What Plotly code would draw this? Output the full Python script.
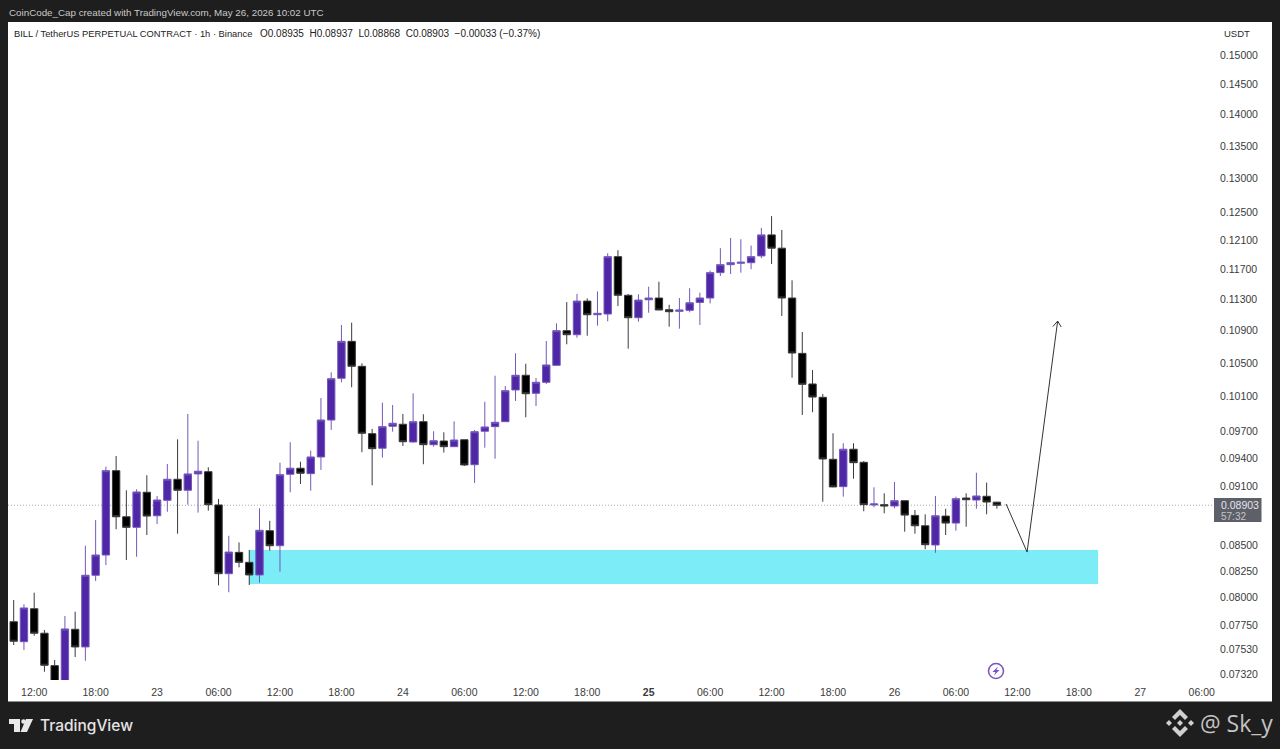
import numpy as np
import pandas as pd
import plotly.graph_objects as go

# Hourly candles, first bar May 22 10:00
times = pd.date_range("2026-05-22 10:00", periods=97, freq="h")
opens = [.07779, .07601, .07897, .07676, .07393, .07238, .07711, .07555, .08209, .08404,
         .09267, .08785, .08678, .09038, .08795, .08954, .09175, .09059, .09232, .09256,
         .08906, .08224, .08430, .08333, .08212, .08644, .08495, .09228, .09293, .09235,
         .09415, .09827, .10314, .10765, .10458, .09673, .09511, .09756, .09779, .09580,
         .09808, .09550, .09591, .09528, .09605, .09331, .09700, .09752, .09808, .10175,
         .10350, .10136, .10266, .10470, .10899, .10848, .11279, .11102, .11111, .11875,
         .11355, .11064, .11296, .11319, .11167, .11146, .11159, .11262, .11319, .11657,
         .11765, .11784, .11792, .11885, .12178, .11992, .11319, .10616, .10246, .10089,
         .09390, .09097, .09500, .09357, .08906, .08909, .08895, .08950, .08799, .08694,
         .08502, .08792, .08721, .08978, .08957, .08996, .08935]
highs = [.07977, .07938, .08045, .07705, .07441, .07831, .07870, .08495, .08751, .09310,
         .09426, .09059, .09069, .09218, .08999, .09339, .09610, .09896, .09594, .09304,
         .08968, .08594, .08528, .08453, .08871, .08744, .09353, .09577, .09364, .09484,
         .10081, .10386, .10971, .11000, .10494, .09726, .10026, .09999, .09896, .10136,
         .09893, .09700, .09688, .09812, .09605, .09715, .10037, .10345, .10222, .10617,
         .10489, .10317, .10769, .10992, .11266, .11374, .11315, .11406, .11922, .11964,
         .11372, .11368, .11469, .11535, .11231, .11319, .11448, .11389, .11684, .11992,
         .12135, .12117, .12028, .12277, .12446, .12248, .11554, .10882, .10413, .10128,
         .09677, .09566, .09566, .09371, .09090, .09027, .09146, .08950, .08854, .08810,
         .08999, .08867, .08992, .09027, .09245, .09139, .08937]
lows = [.07572, .07528, .07654, .07341, .07188, .07204, .07467, .07435, .08155, .08307,
        .08658, .08355, .08387, .08601, .08711, .08836, .08614, .08909, .08827, .08847,
        .08114, .08049, .08285, .08117, .08139, .08446, .08243, .09037, .09125, .09055,
        .09275, .09715, .10266, .10207, .09467, .09111, .09407, .09695, .09536, .09572,
        .09336, .09528, .09463, .09528, .09317, .09136, .09517, .09396, .09808, .10046,
        .09858, .09988, .10246, .10470, .10728, .10810, .10835, .10962, .11018, .11215,
        .10674, .11012, .11128, .11163, .10949, .10924, .11133, .10971, .11249, .11612,
        .11639, .11657, .11703, .11853, .11775, .11086, .10321, .09884, .09916, .08939,
        .09090, .08992, .09181, .08841, .08882, .08820, .08871, .08634, .08614, .08460,
        .08426, .08601, .08644, .08684, .08867, .08810, .08868]
closes = [.07605, .07904, .07676, .07396, .07238, .07714, .07555, .08209, .08404, .09267,
          .08785, .08678, .09041, .08792, .08957, .09175, .09059, .09232, .09261, .08909,
          .08224, .08433, .08333, .08212, .08648, .08495, .09224, .09293, .09239, .09415,
          .09827, .10309, .10765, .10458, .09677, .09506, .09752, .09790, .09583, .09808,
          .09550, .09594, .09528, .09602, .09328, .09695, .09748, .09801, .10167, .10350,
          .10131, .10266, .10474, .10899, .10848, .11279, .11102, .11120, .11875, .11355,
          .11064, .11292, .11319, .11163, .11141, .11163, .11257, .11319, .11657, .11765,
          .11792, .11798, .11875, .12178, .11992, .11319, .10620, .10242, .10092, .09393,
          .09094, .09500, .09353, .08909, .08916, .08895, .08950, .08802, .08694, .08505,
          .08795, .08721, .08971, .08960, .08999, .08936, .08903]

price_ticks = [.15, .145, .14, .135, .13, .125, .121, .117, .113, .109, .105, .101,
               .097, .094, .091, .085, .0825, .08, .0775, .0753, .0732]
price_labels = ["%.5f" % p for p in price_ticks]
time_ticks = pd.date_range("2026-05-22 12:00", periods=20, freq="6h")
time_labels = ["12:00", "18:00", "23", "06:00", "12:00", "18:00", "24", "06:00", "12:00", "18:00",
               "<b>25</b>", "06:00", "12:00", "18:00", "26", "06:00", "12:00", "18:00", "27", "06:00"]

last_price = 0.08903
zone_low, zone_high = 0.08126, 0.08453
zone_start, zone_end = "2026-05-23 08:59", "2026-05-26 19:53"
path_times = ["2026-05-26 10:54", "2026-05-26 12:57", "2026-05-26 15:56"]
path_prices = [0.08916, 0.08433, 0.11021]
head_times = ["2026-05-26 15:28", "2026-05-26 15:56", "2026-05-26 16:17"]
head_prices = [0.10950, 0.11021, 0.10945]

PURPLE = "#4f26a6"
DARK = "#1e1e1e"
TEXT = "#3b3b3b"
FONT = "Liberation Sans"

# Pane edges in the 1280x749 page
LEFT, RIGHT, TOP, BOTTOM = 8, 1214, 22, 680


def px(x):
    return (x - LEFT) / (RIGHT - LEFT)


def py(y):
    return (BOTTOM - y) / (BOTTOM - TOP)


def label(x, y, text, size, color, anchor="left", family=FONT, weight=None):
    return dict(xref="paper", yref="paper", x=px(x), y=py(y), text=text, showarrow=False,
                xanchor=anchor, yanchor="middle", xshift=0, borderpad=0,
                font=dict(family=family, size=size, color=color, weight=weight))


def poly(points, color):
    d = "M" + " L".join("%.5f,%.5f" % (px(a), py(b)) for a, b in points) + " Z"
    return dict(type="path", xref="paper", yref="paper", path=d, fillcolor=color, line_width=0)


def box(x0, y0, x1, y1, color, layer="below"):
    return dict(type="rect", xref="paper", yref="paper", x0=px(x0), x1=px(x1), y0=py(y0), y1=py(y1),
                fillcolor=color, line_width=0, layer=layer)


fig = go.Figure()

fig.add_trace(go.Candlestick(
    x=times, open=opens, high=highs, low=lows, close=closes,
    increasing=dict(line=dict(color="#7358bb", width=1), fillcolor=PURPLE),
    decreasing=dict(line=dict(color="#3a3a3a", width=1), fillcolor="#000000"),
    whiskerwidth=0, hoverinfo="skip", showlegend=False,
))
fig.add_trace(go.Scatter(x=path_times, y=path_prices, mode="lines",
                         line=dict(color="#333333", width=1), showlegend=False, hoverinfo="skip"))
fig.add_trace(go.Scatter(x=head_times, y=head_prices, mode="lines",
                         line=dict(color="#333333", width=1), showlegend=False, hoverinfo="skip"))

shapes = [
    box(LEFT, TOP, 1272, 701.5, "#ffffff"),
    # demand zone
    dict(type="rect", xref="x", yref="y", x0=zone_start, x1=zone_end, y0=zone_low, y1=zone_high,
         fillcolor="#7cecf6", line_width=0, layer="below"),
    # last price line
    dict(type="line", xref="paper", yref="y", x0=0, x1=1, y0=last_price, y1=last_price,
         line=dict(color="#a8a8a8", width=1, dash="1px,2px"), layer="below"),
    # last price badge
    box(1214, 498, 1261.5, 522, "#5d6069", layer="above"),
    # alert icon ring
    dict(type="circle", xref="paper", yref="paper", x0=px(988.5), x1=px(1003.5), y0=py(678.5), y1=py(663.5),
         line=dict(color="#7a52c0", width=1.5), fillcolor="rgba(0,0,0,0)"),
    poly([(998, 666.5), (992.5, 672), (995.5, 672), (994, 675.5), (999.5, 670), (996.5, 670)], "#7a52c0"),
    # TradingView mark
    poly([(9, 719), (20, 719), (20, 732), (14, 732), (14, 724), (9, 724)], "#e8e8e8"),
    poly([(26, 719), (33, 719), (27, 732), (20.5, 732)], "#e8e8e8"),
    dict(type="circle", xref="paper", yref="paper", x0=px(21.2), x1=px(25.8), y0=py(723.8), y1=py(719.2),
         fillcolor="#e8e8e8", line_width=0),
    # Binance mark
    poly([(1180, 709), (1188, 717), (1185, 720), (1180, 715), (1175, 720), (1172, 717)], "#d0d0d0"),
    poly([(1180, 737), (1188, 729), (1185, 726), (1180, 731), (1175, 726), (1172, 729)], "#d0d0d0"),
    poly([(1180, 720), (1183, 723), (1180, 726), (1177, 723)], "#d0d0d0"),
    poly([(1169, 720), (1172, 723), (1169, 726), (1166, 723)], "#d0d0d0"),
    poly([(1191, 720), (1194, 723), (1191, 726), (1188, 723)], "#d0d0d0"),
]

annotations = [
    label(8, 12.5, "CoinCode_Cap created with TradingView.com, May 26, 2026 10:02 UTC", 9.8, "#c9c9c9"),
    label(13, 33.5, "BILL / TetherUS PERPETUAL CONTRACT · 1h · Binance", 9.35, "#222222"),
    label(258.6, 33.5, "O0.08935  H0.08937  L0.08868  C0.08903  −0.00033 (−0.37%)", 10, "#222222"),
    label(1223, 34, "USDT", 9.5, "#2a2a2a"),
    label(1220, 505, "0.08903", 10.5, "#e4e4e8"),
    label(1220, 516, "57:32", 10, "#c4c5cc"),
    label(39, 725.5, "TradingView", 15.5, "#e4e4e4", family="Inter", weight=500),
    label(1199, 723, "@ Sk_y", 23, "#c4c4c4", family="Open Sans"),
]

fig.update_layout(
    width=1280, height=749,
    margin=dict(l=LEFT, r=1280 - RIGHT, t=TOP, b=749 - BOTTOM, pad=0),
    paper_bgcolor=DARK, plot_bgcolor="#ffffff",
    font=dict(family=FONT, size=11, color=TEXT),
    showlegend=False, boxgap=0.28, boxgroupgap=0, hovermode=False,
    shapes=shapes, annotations=annotations,
    xaxis=dict(type="date", range=["2026-05-22 09:26:35", "2026-05-27 07:12"],
               rangeslider=dict(visible=False), showgrid=False, zeroline=False, showline=False,
               tickmode="array", tickvals=time_ticks, ticktext=time_labels, tickangle=0,
               ticks="", ticklabelstandoff=4, tickfont=dict(size=10.5, color=TEXT)),
    yaxis=dict(type="log", side="right", range=[np.log10(0.07271), np.log10(0.15585)],
               showgrid=False, zeroline=False, showline=False,
               tickmode="array", tickvals=price_ticks, ticktext=price_labels,
               ticks="", ticklabelstandoff=5, tickfont=dict(size=10.5, color=TEXT)),
)

fig.write_html("out.html", config=dict(displayModeBar=False), post_script="document.body.style.margin='0';")
